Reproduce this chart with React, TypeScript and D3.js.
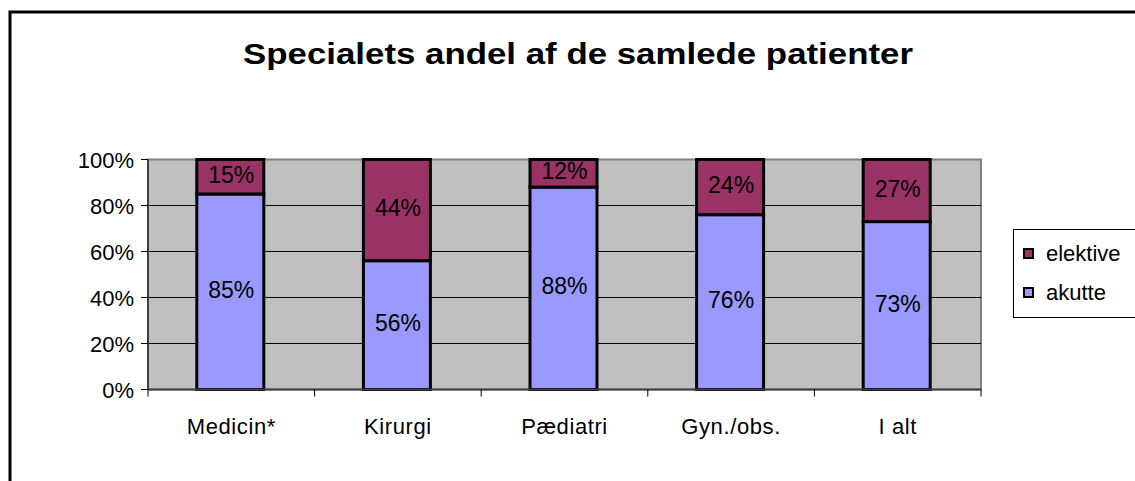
import React from "react";
import * as d3 from "d3";

const categories = ["Medicin*", "Kirurgi", "Pædiatri", "Gyn./obs.", "I alt"];
const akutte = [85, 56, 88, 76, 73];
const elektive = [15, 44, 12, 24, 27];
const yTicks = [0, 20, 40, 60, 80, 100];
const seriesNames = ["elektive", "akutte"];
const title = "Specialets andel af de samlede patienter";

const FONT = "'Liberation Sans', Arial, sans-serif";

export default function App() {
  const W = 1135, H = 481;
  const plot = { x0: 148, x1: 981, y0: 159.5, y1: 389.5 };
  const xOuter = d3.scaleBand<string>().domain(categories).range([plot.x0, plot.x1]);
  const y = d3.scaleLinear().domain([0, 100]).range([plot.y1, plot.y0]);
  const colors: Record<string, string> = { elektive: "#993366", akutte: "#9999FF" };
  const barW = 67;

  const rows = categories.map((c, i) => ({ cat: c, akutte: akutte[i], elektive: elektive[i] }));
  const stack = d3.stack<any>().keys(["akutte", "elektive"])(rows);

  return (
    <svg width={W} height={H} style={{ position: "absolute", left: 0, top: 0, background: "#fff" }}>
      <rect x={10} y={12} width={W + 10} height={H + 10} fill="#fff" stroke="#000" strokeWidth={3} />
      <text x={578} y={64} textAnchor="middle" fontFamily={FONT} fontWeight="bold" fontSize={30}
        textLength={670} lengthAdjust="spacingAndGlyphs">{title}</text>

      <rect x={plot.x0} y={plot.y0} width={plot.x1 - plot.x0} height={plot.y1 - plot.y0} fill="#C0C0C0" stroke="#808080" strokeWidth={2} />
      {yTicks.filter(t => t > 0 && t < 100).map(t => (
        <line key={t} x1={plot.x0} x2={plot.x1} y1={y(t)} y2={y(t)} stroke="#000" strokeWidth={1} />
      ))}

      {stack.map(s => s.map((d, i) => {
        const cat = categories[i];
        const bx = xOuter(cat)! + xOuter.bandwidth() / 2 - barW / 2 - 1;
        const key = s.key;
        const val = key === "akutte" ? akutte[i] : elektive[i];
        return (
          <g key={key + i}>
            <rect x={bx} y={y(d[1])} width={barW} height={y(d[0]) - y(d[1])} fill={colors[key]} stroke="#000" strokeWidth={3} />
            <text x={bx + barW / 2 + 1} y={(y(d[0]) + y(d[1])) / 2 + 6} textAnchor="middle" fontFamily={FONT} fontSize={23}>{val}%</text>
          </g>
        );
      }))}

      <line x1={plot.x0} x2={plot.x0} y1={plot.y0} y2={plot.y1} stroke="#404040" strokeWidth={2} />
      <line x1={plot.x0} x2={plot.x1} y1={plot.y1} y2={plot.y1} stroke="#404040" strokeWidth={2} />
      {yTicks.map(t => (
        <g key={t}>
          <line x1={plot.x0 - 7} x2={plot.x0} y1={y(t)} y2={y(t)} stroke="#000" strokeWidth={1} />
          <text x={134} y={y(t) + 8} textAnchor="end" fontFamily={FONT} fontSize={22}>{t}%</text>
        </g>
      ))}
      {categories.map((c, i) => (
        <g key={c}>
          <line x1={xOuter(c)!} x2={xOuter(c)!} y1={plot.y1} y2={plot.y1 + 7} stroke="#000" strokeWidth={1} />
          {i === categories.length - 1 && (
            <line x1={plot.x1} x2={plot.x1} y1={plot.y1} y2={plot.y1 + 7} stroke="#000" strokeWidth={1} />
          )}
          <text x={xOuter(c)! + xOuter.bandwidth() / 2} y={434} textAnchor="middle" fontFamily={FONT} fontSize={22} letterSpacing={0.6}>{c}</text>
        </g>
      ))}

      <rect x={1013.5} y={229.5} width={125} height={88} fill="#fff" stroke="#000" strokeWidth={1} />
      {seriesNames.map((n, i) => (
        <g key={n}>
          <rect x={1024} y={249 + i * 39} width={9} height={9} fill={colors[n]} stroke="#000" strokeWidth={2} />
          <text x={1046} y={261 + i * 39} fontFamily={FONT} fontSize={22}>{n}</text>
        </g>
      ))}
    </svg>
  );
}
